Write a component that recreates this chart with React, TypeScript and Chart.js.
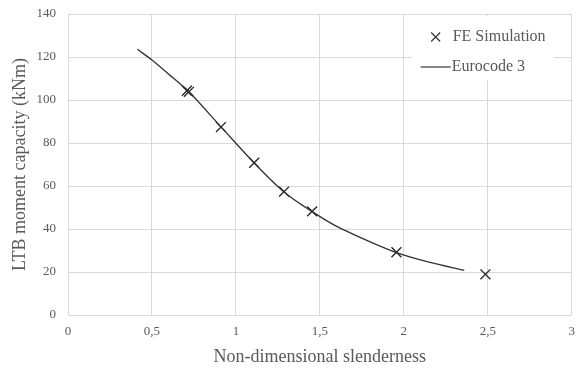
import React, { useEffect, useRef } from "react";
import { Chart, registerables } from "chart.js";

Chart.register(...registerables);

const feX = [0.708, 0.72, 0.911, 1.109, 1.287, 1.454, 1.956, 2.486];
const feY = [104.3, 103.8, 87.4, 70.8, 57.4, 48.2, 29.2, 18.9];

const ecX = [0.413, 0.5, 0.6, 0.72, 0.91, 1.11, 1.29, 1.45, 1.6, 1.8, 1.96, 2.15, 2.36];
const ecY = [123.6, 118.6, 112.0, 103.8, 87.6, 70.6, 57.0, 48.3, 41.2, 34.0, 28.9, 24.6, 20.8];

const xTicks = [0, 0.5, 1, 1.5, 2, 2.5, 3];
const yTicks = [0, 20, 40, 60, 80, 100, 120, 140];

const FONT = "'Liberation Serif', 'Times New Roman', serif";
const TEXT = "#595959";
const GRID = "#d9d9d9";

const legendPlugin = {
  id: "insideLegend",
  afterDraw(chart: any) {
    const ctx = chart.ctx;
    const area = chart.chartArea;
    ctx.save();
    const bx = area.right - 160;
    const by = area.top + 2;
    ctx.fillStyle = "#ffffff";
    ctx.fillRect(bx, by, 142, 64);
    const mx = bx + 24;
    const my = by + 21;
    ctx.strokeStyle = "#333";
    ctx.lineWidth = 1.1;
    ctx.beginPath();
    ctx.moveTo(mx - 4.5, my - 4.5);
    ctx.lineTo(mx + 4.5, my + 4.5);
    ctx.moveTo(mx + 4.5, my - 4.5);
    ctx.lineTo(mx - 4.5, my + 4.5);
    ctx.stroke();
    ctx.font = `16px ${FONT}`;
    ctx.fillStyle = TEXT;
    ctx.textBaseline = "middle";
    ctx.textAlign = "left";
    ctx.fillText("FE Simulation", bx + 41, my);
    const ly = by + 51;
    ctx.strokeStyle = "#333";
    ctx.lineWidth = 1.2;
    ctx.beginPath();
    ctx.moveTo(bx + 9, ly);
    ctx.lineTo(bx + 39, ly);
    ctx.stroke();
    ctx.fillText("Eurocode 3", bx + 40, ly);
    ctx.restore();
  },
};

export default function App() {
  const ref = useRef<HTMLCanvasElement>(null);
  useEffect(() => {
    document.body.style.margin = "0";
    const chart = new Chart(ref.current as HTMLCanvasElement, {
      type: "scatter",
      data: {
        datasets: [
          {
            label: "Eurocode 3",
            data: ecX.map((x, i) => ({ x, y: ecY[i] })),
            showLine: true,
            borderColor: "#333",
            borderWidth: 1.3,
            pointRadius: 0,
            tension: 0.3,
            fill: false,
          },
          {
            label: "FE Simulation",
            data: feX.map((x, i) => ({ x, y: feY[i] })),
            showLine: false,
            pointStyle: "crossRot",
            pointRadius: 7,
            borderColor: "#222",
            borderWidth: 1.3,
          },
        ],
      },
      options: {
        animation: false,
        responsive: false,
        devicePixelRatio: 1,
        layout: { padding: { top: 14, right: 8, left: 0, bottom: 0 } },
        plugins: {
          legend: { display: false },
          tooltip: { enabled: false },
        },
        scales: {
          x: {
            type: "linear",
            min: 0,
            max: 3,
            afterBuildTicks: (s: any) => {
              s.ticks = xTicks.map((v) => ({ value: v }));
            },
            afterFit: (s: any) => {
              s.height = 56;
              s.paddingLeft = 0;
              s.paddingRight = 0;
            },
            ticks: {
              color: TEXT,
              font: { family: FONT, size: 13 },
              padding: 9,
              callback: (v: any) => String(v).replace(".", ","),
            },
            grid: { color: GRID, drawTicks: false, lineWidth: 1 },
            border: { color: GRID },
            title: {
              display: true,
              text: "Non-dimensional slenderness",
              color: TEXT,
              font: { family: FONT, size: 18 },
              padding: { top: 0, bottom: 3 },
            },
          },
          y: {
            type: "linear",
            min: 0,
            max: 140,
            afterBuildTicks: (s: any) => {
              s.ticks = yTicks.map((v) => ({ value: v }));
            },
            afterFit: (s: any) => {
              s.width = 68;
              s.paddingTop = 0;
              s.paddingBottom = 0;
            },
            ticks: {
              color: TEXT,
              font: { family: FONT, size: 13 },
              padding: 12,
            },
            grid: { color: GRID, drawTicks: false, lineWidth: 1 },
            border: { color: GRID },
            title: {
              display: true,
              text: "LTB moment capacity (kNm)",
              color: TEXT,
              font: { family: FONT, size: 18 },
              padding: { top: 9, bottom: 0 },
            },
          },
        },
      },
      plugins: [legendPlugin],
    } as any);
    return () => chart.destroy();
  }, []);
  return (
    <div style={{ width: 580, height: 371 }}>
      <canvas ref={ref} width={580} height={371} style={{ display: "block" }} />
    </div>
  );
}
